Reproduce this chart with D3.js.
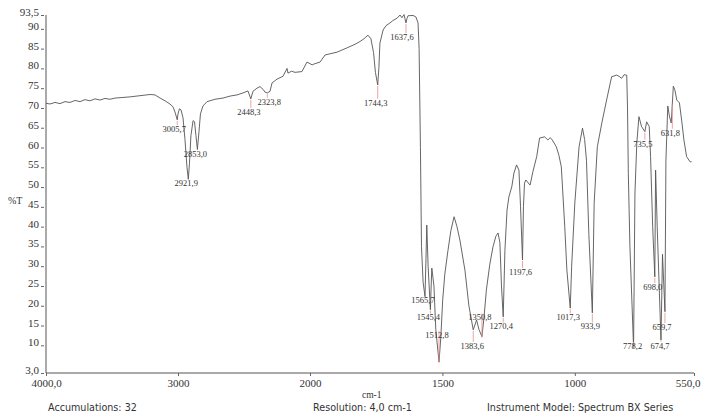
<!DOCTYPE html>
<html lang="en">
<head>
  <meta charset="UTF-8">
  <title>IR Spectrum</title>
  <script src="https://d3js.org/d3.v7.min.js"></script>
  <style>
    body { margin: 0; padding: 0; background: #fff; }
    svg { display: block; }
    .tick text { font-family: "Liberation Serif", "DejaVu Serif", serif; fill: #333; }
    .peak { font-family: "Liberation Serif", serif; font-size: 8.5px; fill: #333; }
    .foot { font-family: "DejaVu Sans", Verdana, sans-serif; font-size: 9.6px; fill: #333; }
  </style>
</head>
<body>
  <div id="chart"></div>

  <script>
    // spectrum (cm-1, %T)
    const wavenumbers = [
      4000, 3970, 3932, 3894, 3856, 3818, 3780, 3742, 3705, 3667, 3629, 3591, 3553, 3515, 3477, 3439,
      3364, 3288, 3212, 3174, 3136, 3098, 3061, 3038, 3023, 3005.7, 3000, 2989, 2977, 2962, 2947, 2932,
      2921.9, 2913, 2902, 2886, 2875, 2864, 2853, 2841, 2830, 2811, 2780, 2720, 2659, 2606, 2553, 2508,
      2470, 2448.3, 2432, 2402, 2379, 2356, 2341, 2323.8, 2303, 2288, 2250, 2205, 2174, 2167, 2140, 2114,
      2061, 2023, 1992, 1981, 1962, 1943, 1898, 1860, 1830, 1811, 1796, 1781, 1770, 1760, 1753, 1744.3,
      1740, 1736, 1724, 1713, 1698, 1687, 1671, 1660, 1653, 1645, 1637.6, 1634, 1630, 1611, 1600, 1592,
      1588, 1583, 1579, 1573, 1565.7, 1562, 1559, 1554, 1545.4, 1543, 1540, 1532, 1525, 1512.8, 1506, 1499,
      1491, 1479, 1468, 1456, 1445, 1434, 1415, 1400, 1383.6, 1371, 1362, 1350.8, 1343, 1334, 1321, 1309,
      1298, 1290, 1283, 1277, 1270.4, 1264, 1256, 1249, 1238, 1230, 1220, 1211, 1205, 1197.6, 1194, 1190,
      1185, 1169, 1158, 1144, 1133, 1114, 1102, 1093, 1085, 1070, 1060, 1051, 1038, 1030, 1017.3, 1012,
      1000, 984, 971, 963, 956, 947, 933.9, 927, 915, 898, 880, 861, 842, 833, 823, 814,
      804, 801, 798, 792, 778.2, 773, 766, 758, 748, 735.5, 729, 719, 714, 706, 698, 695,
      689, 674.7, 669, 659.7, 656, 649, 643, 636, 628, 622, 615, 605, 596, 588, 578, 565,
      559
    ];
    const transmittance = [
      71.2, 71.0, 71.4, 71.1, 71.6, 71.4, 71.9, 71.6, 72.1, 71.8, 72.3, 72.0, 72.4, 72.2, 72.5, 72.6,
      72.8, 73.1, 73.4, 73.3, 72.5, 71.8, 71.0, 70.3, 69.0, 67.0, 68.5, 69.8, 69.5, 67.5, 62, 55,
      52, 56, 63, 66.8, 66.5, 63, 59.5, 64, 68.5, 70.5, 71.6, 72.2, 72.5, 73.0, 73.3, 73.8,
      74.3, 72.3, 74.2, 75.0, 75.4, 74.7, 74.0, 73.8, 74.2, 76.3, 77.3, 78.0, 80.0, 78.8, 79.3, 79.0,
      79.2, 81.6, 80.9, 81.2, 81.6, 83.4, 84.1, 85.2, 86.1, 86.8, 87.5, 88.4, 87.5, 84, 79, 75.8,
      80, 86.4, 89.7, 90.8, 91.5, 92.1, 92.7, 93.5, 92.8, 93.6, 91.5, 92.6, 93.3, 93.4, 93.0, 91.5,
      85, 60, 35, 26, 22.3, 32, 40.4, 30, 19, 24, 29.5, 25, 14, 5.8, 12, 21.4,
      28, 34, 39, 42.5, 40, 36.6, 29, 20, 13.9, 16.4, 14, 12.2, 17, 24, 30.5, 34.9,
      37.6, 38.4, 36, 25, 17.2, 34, 44.2, 47.5, 50.1, 53.5, 55.6, 54.3, 45, 31.6, 45, 51,
      51.8, 50.5, 54, 57.7, 62.4, 62.7, 61.9, 62.5, 61.9, 60.2, 58, 55.1, 40, 29, 19.4, 30,
      46, 60.2, 64.9, 62, 56.8, 38, 18.2, 46, 60.2, 66.2, 72, 77.9, 78.3, 78.0, 77.5, 78.4,
      78.3, 70, 53.5, 35, 9.5, 48.5, 61.1, 67.8, 65.3, 64, 66.5, 65.3, 57.7, 40, 27.3, 54.3,
      40, 11.3, 33, 18.5, 56.8, 70.5, 68, 66.2, 75.5, 74.5, 72, 71.3, 66.5, 61.9, 57.7, 56.4,
      56.4
    ];

    // labelled peaks
    const peakWavenumbers = [3005.7, 2921.9, 2853.0, 2448.3, 2323.8, 1744.3, 1637.6, 1565.7, 1545.4, 1512.8,
      1383.6, 1350.8, 1270.4, 1197.6, 1017.3, 933.9, 778.2, 735.5, 698.0, 674.7, 659.7, 631.8];
    const peakLabels = ["3005,7", "2921,9", "2853,0", "2448,3", "2323,8", "1744,3", "1637,6", "1565,7", "1545,4", "1512,8",
      "1383,6", "1350,8", "1270,4", "1197,6", "1017,3", "933,9", "778,2", "735,5", "698,0", "674,7", "659,7", "631,8"];
    // %T level where each label sits (below its band)
    const peakLabelT = [63.9, 50.3, 57.5, 68.3, 70.8, 70.6, 87.1, 20.8, 16.3, 11.8,
      9.1, 16.3, 14.0, 27.8, 16.3, 14.0, 9.1, 60.2, 24.0, 9.1, 13.8, 63.0];
    const peakLabelDx = [-3, -2, -2, -2, 2, -2, -4, -2, -2, -2, -1, -2, -2, -2, -2, -2, -1, -2, -2, -1, -3, -2];

    const yTicks = [3, 10, 15, 20, 25, 30, 35, 40, 45, 50, 55, 60, 65, 70, 75, 80, 85, 90, 93.5];
    const xTicks = [4000, 3000, 2000, 1500, 1000, 550];

    const width = 701, height = 417;
    const svg = d3.select('#chart').append('svg')
      .attr('width', width).attr('height', height);

    // expanded scale below 2000 cm-1
    const x = d3.scaleLinear().domain([4000, 2000, 550]).range([46, 310, 694]);
    const y = d3.scaleLinear().domain([3, 93.5]).range([373, 15]);

    const comma = d => (d === 3 ? '3,0' : d === 93.5 ? '93,5' : d === 4000 ? '4000,0' : d === 550 ? '550,0' : String(d));

    // y axis
    const ya = svg.append('g').attr('transform', 'translate(46,0)')
      .call(d3.axisLeft(y).tickValues(yTicks).tickFormat(comma).tickSize(0).tickPadding(7));
    ya.select('.domain').attr('stroke', '#555').attr('d', `M0,${y(93.5)}V${y(3)}`);
    ya.selectAll('.tick text').attr('font-size', 11).attr('dy', '0.05em');
    ya.selectAll('.tick').append('line')
      .attr('x1', -5).attr('x2', -2).attr('stroke', '#666');

    // x axis
    const xa = svg.append('g').attr('transform', 'translate(0,373)')
      .call(d3.axisBottom(x).tickValues(xTicks).tickFormat(comma).tickSize(3).tickPadding(3));
    xa.select('.domain').attr('stroke', '#555').attr('d', `M46,0H694`);
    xa.selectAll('.tick line').attr('stroke', '#666');
    xa.selectAll('.tick text').attr('font-size', 11);
    // last label sits against the right edge
    xa.selectAll('.tick text').filter(d => d === 550).attr('text-anchor', 'end').attr('x', 6);

    svg.append('text').attr('x', 8).attr('y', 204)
      .attr('font-family', 'Liberation Serif, serif').attr('font-size', 10).attr('fill', '#333').text('%T');
    svg.append('text').attr('x', 362).attr('y', 398)
      .attr('font-family', 'Liberation Serif, serif').attr('font-size', 9.5).attr('fill', '#333').text('cm-1');

    // spectrum trace
    const pts = wavenumbers.map((w, i) => [w, transmittance[i]]);
    svg.append('path').datum(pts)
      .attr('fill', 'none').attr('stroke', '#555').attr('stroke-width', 0.9)
      .attr('d', d3.line().x(d => x(d[0])).y(d => y(d[1])).curve(d3.curveLinear));

    // peak markers and labels
    const peaks = peakWavenumbers.map((w, i) => ({ w, label: peakLabels[i], t: peakLabelT[i], dx: peakLabelDx[i] }));
    const interp = w => {
      for (let i = 0; i < wavenumbers.length - 1; i++) {
        if (w <= wavenumbers[i] && w >= wavenumbers[i + 1]) {
          const f = (wavenumbers[i] - w) / (wavenumbers[i] - wavenumbers[i + 1]);
          return transmittance[i] + f * (transmittance[i + 1] - transmittance[i]);
        }
      }
      return transmittance[transmittance.length - 1];
    };
    const pg = svg.append('g');
    pg.selectAll('line').data(peaks).join('line')
      .attr('x1', d => x(d.w)).attr('x2', d => x(d.w))
      .attr('y1', d => y(interp(d.w)) + 1)
      .attr('y2', d => y(d.t) - 7)
      .attr('stroke', '#f08a8a').attr('stroke-width', 0.8);
    pg.selectAll('text').data(peaks).join('text')
      .attr('class', 'peak')
      .attr('x', d => x(d.w) + d.dx).attr('y', d => y(d.t))
      .attr('text-anchor', 'middle')
      .text(d => d.label);

    // footer
    svg.append('text').attr('class', 'foot').attr('x', 48).attr('y', 411).text('Accumulations: 32');
    svg.append('text').attr('class', 'foot').attr('x', 313).attr('y', 411).text('Resolution: 4,0 cm-1');
    svg.append('text').attr('class', 'foot').attr('x', 487).attr('y', 411).text('Instrument Model: Spectrum BX Series');
  </script>
</body>
</html>
